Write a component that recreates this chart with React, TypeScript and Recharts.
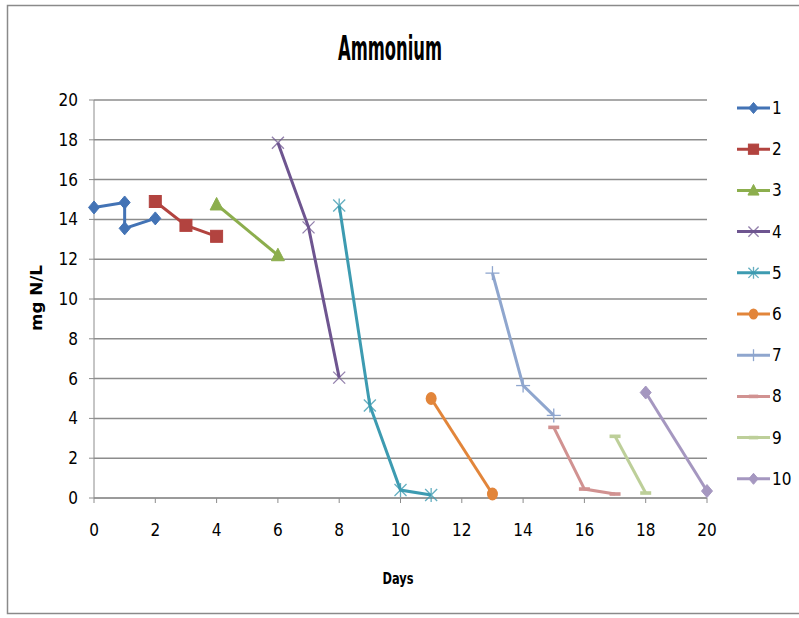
import React from "react";
import { LineChart, Line, XAxis, YAxis, CartesianGrid } from "recharts";

const seriesNames = ["1", "2", "3", "4", "5", "6", "7", "8", "9", "10"];
const seriesColors = ["#4373B5", "#B2433F", "#8CAE4D", "#6E5590", "#3D9BB1", "#E2853A", "#8FA6CE", "#D19291", "#BDCF99", "#A597C0"];
const seriesShapes = ["diamond", "square", "triangle", "x", "star", "circle", "plus", "dash", "dash", "diamond"];

const days1 = [0, 1, 1, 2];
const vals1 = [14.6, 14.85, 13.55, 14.05];
const days2 = [2, 3, 4];
const vals2 = [14.9, 13.7, 13.15];
const days3 = [4, 6];
const vals3 = [14.75, 12.2];
const days4 = [6, 7, 8];
const vals4 = [17.85, 13.6, 6.05];
const days5 = [8, 9, 10, 11];
const vals5 = [14.7, 4.65, 0.4, 0.15];
const days6 = [11, 13];
const vals6 = [5.0, 0.2];
const days7 = [13, 14, 15];
const vals7 = [11.3, 5.65, 4.15];
const days8 = [15, 16, 17];
const vals8 = [3.55, 0.45, 0.2];
const days9 = [17, 18];
const vals9 = [3.1, 0.25];
const days10 = [18, 20];
const vals10 = [5.3, 0.35];

const xTicks = [0, 2, 4, 6, 8, 10, 12, 14, 16, 18, 20];
const yTicks = [0, 2, 4, 6, 8, 10, 12, 14, 16, 18, 20];

const allDays = [days1, days2, days3, days4, days5, days6, days7, days8, days9, days10];
const allVals = [vals1, vals2, vals3, vals4, vals5, vals6, vals7, vals8, vals9, vals10];

const seriesData = allDays.map((ds, i) => ds.map((d, j) => ({ day: d, value: allVals[i][j] })));

const FONT = "'Liberation Sans Narrow', 'DejaVu Sans Condensed', 'Liberation Sans', sans-serif";

function MarkerShape({ cx, cy, shape, color, s = 1 }: { cx: number; cy: number; shape: string; color: string; s?: number }) {
  switch (shape) {
    case "diamond":
      return <path d={`M${cx},${cy - 6.5 * s}L${cx + 5.5 * s},${cy}L${cx},${cy + 6.5 * s}L${cx - 5.5 * s},${cy}Z`} fill={color} stroke={color} strokeWidth={1} />;
    case "square":
      return <rect x={cx - 6 * s} y={cy - 6 * s} width={12 * s} height={12 * s} fill={color} stroke={color} strokeWidth={1} />;
    case "triangle":
      return <path d={`M${cx},${cy - 7 * s}L${cx + 6.5 * s},${cy + 5.5 * s}L${cx - 6.5 * s},${cy + 5.5 * s}Z`} fill={color} stroke={color} strokeWidth={1} />;
    case "x":
      return (
        <g stroke={color} strokeWidth={1.3} opacity={0.75}>
          <line x1={cx - 6 * s} y1={cy - 6 * s} x2={cx + 6 * s} y2={cy + 6 * s} />
          <line x1={cx - 6 * s} y1={cy + 6 * s} x2={cx + 6 * s} y2={cy - 6 * s} />
        </g>
      );
    case "star":
      return (
        <g stroke={color} strokeWidth={1.3} opacity={0.8}>
          <line x1={cx - 6 * s} y1={cy - 6 * s} x2={cx + 6 * s} y2={cy + 6 * s} />
          <line x1={cx - 6 * s} y1={cy + 6 * s} x2={cx + 6 * s} y2={cy - 6 * s} />
          <line x1={cx} y1={cy - 7 * s} x2={cx} y2={cy + 7 * s} />
        </g>
      );
    case "circle":
      return <ellipse cx={cx} cy={cy} rx={5.5 * s} ry={6.5 * s} fill={color} />;
    case "plus":
      return (
        <g stroke={color} strokeWidth={1.3}>
          <line x1={cx - 7 * s} y1={cy} x2={cx + 7 * s} y2={cy} />
          <line x1={cx} y1={cy - 7 * s} x2={cx} y2={cy + 7 * s} />
        </g>
      );
    case "dash":
      return <rect x={cx - 5.5 * s} y={cy - 1.8} width={11 * s} height={3.6} fill={color} />;
    default:
      return null;
  }
}

export default function App() {
  const W = 799;
  const H = 618;
  return (
    <div style={{ position: "absolute", left: 0, top: 0, width: W, height: H, background: "#fff" }}>
      <div style={{ position: "absolute", left: 0, top: 0 }}>
        <LineChart width={W} height={H} margin={{ top: 100, right: 92, bottom: 80, left: 0 }}>
          <CartesianGrid vertical={false} stroke="#8c8c8c" strokeWidth={1.5} />
          <XAxis
            type="number"
            dataKey="day"
            domain={[0, 20]}
            ticks={xTicks}
            allowDuplicatedCategory={false}
            height={40}
            stroke="#8c8c8c"
            tickSize={5}
            tickMargin={21}
            tick={{ fill: "#000", fontSize: 17, fontFamily: FONT }}
          />
          <YAxis
            type="number"
            domain={[0, 20]}
            ticks={yTicks}
            width={94}
            stroke="#8c8c8c"
            tickSize={5}
            tickMargin={11}
            tick={{ fill: "#000", fontSize: 17, fontFamily: FONT }}
          />
          {seriesData.map((d, i) => (
            <Line
              key={seriesNames[i]}
              data={d}
              dataKey="value"
              name={seriesNames[i]}
              stroke={seriesColors[i]}
              strokeWidth={3}
              isAnimationActive={false}
              dot={(p: any) => (
                <MarkerShape key={`${i}-${p.index}`} cx={p.cx} cy={p.cy} shape={seriesShapes[i]} color={seriesColors[i]} />
              )}
              activeDot={false}
            />
          ))}
        </LineChart>
      </div>
      <svg width={W} height={H} style={{ position: "absolute", left: 0, top: 0, pointerEvents: "none" }}>
        <rect x={7.5} y={5.5} width={800} height={608} fill="none" stroke="#8a8a8a" strokeWidth={1.5} />
        <text x={390} y={60} textAnchor="middle" fontSize={34} fontWeight="bold" fontFamily={FONT} textLength={104} lengthAdjust="spacingAndGlyphs">
          Ammonium
        </text>
        <text
          x={0}
          y={0}
          transform="translate(42,298) rotate(-90)"
          textAnchor="middle"
          fontSize={16}
          fontWeight="bold"
          fontFamily={FONT}
          textLength={66}
          lengthAdjust="spacingAndGlyphs"
        >
          mg N/L
        </text>
        <text x={398} y={584} textAnchor="middle" fontSize={16} fontWeight="bold" fontFamily={FONT} textLength={31} lengthAdjust="spacingAndGlyphs">
          Days
        </text>
        {seriesNames.map((n, i) => {
          const y = 108 + i * 41.2;
          return (
            <g key={n}>
              <line x1={737} y1={y} x2={770} y2={y} stroke={seriesColors[i]} strokeWidth={3} />
              <MarkerShape cx={753.5} cy={y} shape={seriesShapes[i]} color={seriesColors[i]} s={0.85} />
              <text x={772} y={y + 6} fontSize={17} fontFamily={FONT} fill="#000">
                {n}
              </text>
            </g>
          );
        })}
      </svg>
    </div>
  );
}
